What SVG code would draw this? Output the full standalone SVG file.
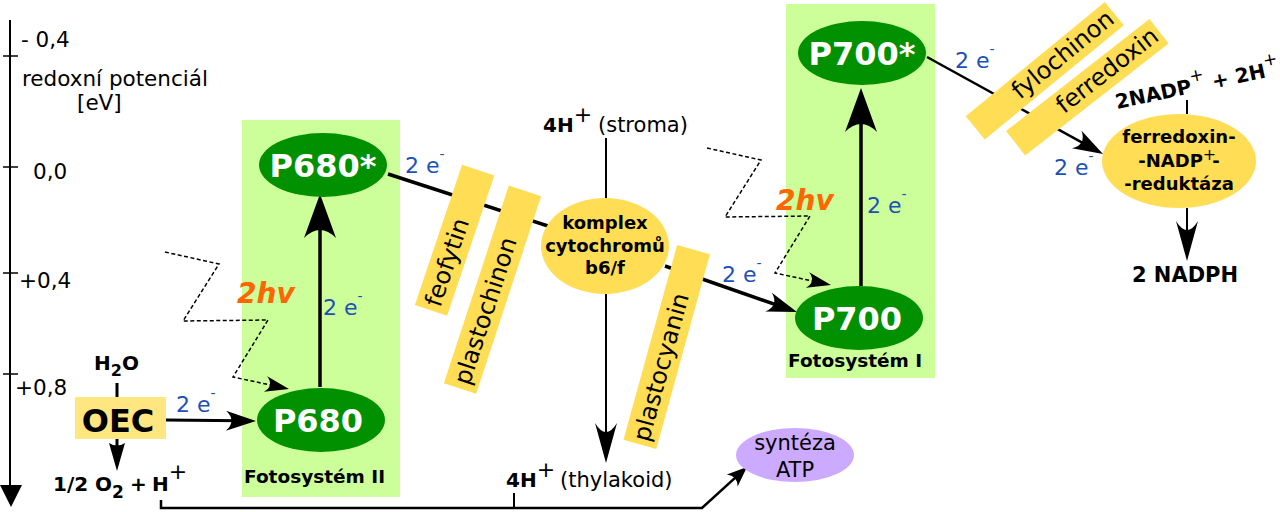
<svg xmlns="http://www.w3.org/2000/svg" width="1280" height="512" viewBox="0 0 1280 512">
<style>
text{font-family:"DejaVu Sans","Liberation Sans",sans-serif;fill:#000}
.ax{font-size:21.5px}
.b{font-weight:bold}
.ps{fill:#ccff99}
.gr{fill:#009000}
.pt{fill:#fff;font-weight:bold;font-size:32px;text-anchor:middle}
.yl{fill:#ffdd55}
.bar{font-size:24px}
.el{font-size:18px;font-weight:bold;text-anchor:middle}
.e{fill:#1a50b8;font-size:22px}
.hv{fill:#ff6600;font-size:28px;font-weight:bold;font-style:italic}
.ln{stroke:#000;fill:none}
.dash{stroke:#000;fill:none;stroke-width:1.5;stroke-dasharray:4 2.5}
.fs{font-size:18.5px;font-weight:bold}
</style>
<defs>
<marker id="aL" viewBox="-50 -20 55 40" markerWidth="55" markerHeight="40" refX="-25" refY="0" orient="auto" markerUnits="userSpaceOnUse"><path d="M0,0 L-44,-16 Q-28,0 -44,16 Z" fill="#000"/></marker>
<marker id="aM" viewBox="-35 -12 40 24" markerWidth="40" markerHeight="24" refX="-15" refY="0" orient="auto" markerUnits="userSpaceOnUse"><path d="M0,0 L-30,-10 Q-19,0 -30,10 Z" fill="#000"/></marker>
<marker id="aD" viewBox="-45 -14 50 28" markerWidth="50" markerHeight="28" refX="-20" refY="0" orient="auto" markerUnits="userSpaceOnUse"><path d="M0,0 L-40,-11 Q-22,0 -40,11 Z" fill="#000"/></marker>
<marker id="aS" viewBox="-28 -10 32 20" markerWidth="32" markerHeight="20" refX="-10" refY="0" orient="auto" markerUnits="userSpaceOnUse"><path d="M0,0 L-24,-8 Q-15,0 -24,8 Z" fill="#000"/></marker>
<marker id="aO" viewBox="-32 -10 36 20" markerWidth="36" markerHeight="20" refX="-14" refY="0" orient="auto" markerUnits="userSpaceOnUse"><path d="M0,0 L-28,-8 Q-23,0 -28,8 Z" fill="#000"/></marker>
<marker id="aT" viewBox="-24 -10 28 20" markerWidth="28" markerHeight="20" refX="-8" refY="0" orient="auto" markerUnits="userSpaceOnUse"><path d="M0,0 L-20,-8 Q-13,0 -20,8 Z" fill="#000"/></marker>
</defs>
<rect width="1280" height="512" fill="#fff"/>

<g id="axis">
<line x1="10" y1="20" x2="10" y2="487" stroke="#000" stroke-width="2"/>
<polygon points="0,485 22,485 11,507" fill="#000"/>
<g stroke="#000" stroke-width="1.5">
<line x1="3" y1="56" x2="18" y2="56"/>
<line x1="3" y1="167" x2="18" y2="167"/>
<line x1="3" y1="273" x2="18" y2="273"/>
<line x1="3" y1="374" x2="18" y2="374"/>
</g>
<text class="ax" x="21" y="47">- 0,4</text>
<text class="ax" x="22" y="86">redoxní potenciál</text>
<text class="ax" x="77" y="110">[eV]</text>
<text class="ax" x="33" y="179">0,0</text>
<text class="ax" x="19" y="288">+0,4</text>
<text class="ax" x="15" y="395">+0,8</text>
</g>

<g id="psII">
<rect class="ps" x="242" y="120" width="158" height="377"/>
<text class="fs" x="244" y="483">Fotosystém II</text>
</g>
<g id="psI">
<rect class="ps" x="786" y="4" width="149" height="374"/>
<text class="fs" x="788" y="367">Fotosystém I</text>
</g>

<g id="connectors">
<line class="ln" x1="320" y1="387" x2="320" y2="219" stroke-width="3.5" marker-end="url(#aL)"/>
<line class="ln" x1="861" y1="286" x2="861" y2="113" stroke-width="3.5" marker-end="url(#aL)"/>
<line class="ln" x1="388" y1="174" x2="548" y2="226" stroke-width="3.5"/>
<line class="ln" x1="166" y1="420" x2="241" y2="420.8" stroke-width="3" marker-end="url(#aM)"/>
<line class="ln" x1="665" y1="266" x2="782.8" y2="307.1" stroke-width="3.5" marker-end="url(#aM)"/>
<line class="ln" x1="927" y1="57" x2="1089.9" y2="146.8" stroke-width="2.5" marker-end="url(#aM)"/>
<line class="ln" x1="606" y1="138" x2="606" y2="199" stroke-width="2"/>
<line class="ln" x1="606" y1="294" x2="606" y2="443" stroke-width="2" marker-end="url(#aD)"/>
<line class="ln" x1="1187" y1="100" x2="1187" y2="114" stroke-width="2"/>
<line class="ln" x1="1187" y1="208" x2="1187" y2="241" stroke-width="2" marker-end="url(#aD)"/>
<line class="ln" x1="117" y1="383" x2="117" y2="397" stroke-width="3"/>
<line class="ln" x1="117" y1="439" x2="117" y2="457" stroke-width="3" marker-end="url(#aO)"/>
<polyline class="ln" points="161,500 161,508 702,508 741.1,472.4" stroke-width="2.5" marker-end="url(#aT)"/>
<line class="ln" x1="514" y1="493" x2="514" y2="508" stroke-width="2"/>
<polyline class="dash" points="165,252 219,264 183,321 268,320 233,377 279.2,386.9" marker-end="url(#aS)"/>
<polyline class="dash" points="707,148 761,160 725,217 810,216 775,273 821.2,282.9" marker-end="url(#aS)"/>
</g>

<g id="labels">
<text class="e" x="405" y="173">2 e<tspan font-size="14" dy="-14">-</tspan></text>
<text class="e" x="323" y="315">2 e<tspan font-size="14" dy="-14">-</tspan></text>
<text class="e" x="176" y="412">2 e<tspan font-size="14" dy="-14">-</tspan></text>
<text class="e" x="722" y="282">2 e<tspan font-size="14" dy="-14">-</tspan></text>
<text class="e" x="867" y="213">2 e<tspan font-size="14" dy="-14">-</tspan></text>
<text class="e" x="955" y="68">2 e<tspan font-size="14" dy="-14">-</tspan></text>
<text class="e" x="1054" y="175">2 e<tspan font-size="14" dy="-14">-</tspan></text>
<text class="hv" x="237" y="303">2hv</text>
<text class="hv" x="776" y="210">2hv</text>
</g>

<g id="p680star">
<ellipse class="gr" cx="323" cy="165" rx="64" ry="32"/>
<text class="pt" x="323" y="177">P680*</text>
</g>
<g id="p680">
<ellipse class="gr" cx="321" cy="420" rx="64" ry="32"/>
<text class="pt" x="318" y="432">P680</text>
</g>
<g id="p700star">
<ellipse class="gr" cx="862" cy="53" rx="64" ry="32"/>
<text class="pt" x="862" y="65">P700*</text>
</g>
<g id="p700">
<ellipse class="gr" cx="859" cy="318" rx="64" ry="32"/>
<text class="pt" x="857" y="330">P700</text>
</g>

<g id="oec">
<rect x="75" y="397" width="91" height="42" fill="#ffe680"/>
<text class="b" x="118" y="432" font-size="32" text-anchor="middle">OEC</text>
</g>
<g id="h2o">
<text class="b" x="94" y="370" font-size="20">H<tspan font-size="16" dy="6">2</tspan><tspan dy="-6">O</tspan></text>
</g>
<g id="o2">
<text class="b" x="53" y="491" font-size="20">1/2 O<tspan font-size="17" dy="7">2</tspan></text>
<text class="b" x="130" y="491" font-size="20">+</text>
<text class="b" x="152" y="491" font-size="20">H<tspan font-weight="normal" font-size="22" dy="-12">+</tspan></text>
</g>

<g id="feofytin" transform="translate(454.6,240.3) rotate(-71.4)">
<rect class="yl" x="-74" y="-17" width="148" height="34"/>
<text class="bar" x="-69" y="8">feofytin</text>
</g>
<g id="plastochinon" transform="translate(492.5,289.7) rotate(-71.8)">
<rect class="yl" x="-104" y="-17" width="208" height="34"/>
<text class="bar" x="-99" y="8">plastochinon</text>
</g>
<g id="plastocyanin" transform="translate(666.7,347) rotate(-74.6)">
<rect class="yl" x="-101" y="-17" width="202" height="34"/>
<text class="bar" x="-97" y="8">plastocyanin</text>
</g>
<g id="fylochinon" transform="translate(1044.8,70.7) rotate(-39.4)">
<rect class="yl" x="-90" y="-15" width="180" height="30"/>
<text class="bar" x="86" y="7" font-size="23" text-anchor="end">fylochinon</text>
</g>
<g id="ferredoxin" transform="translate(1087.3,87.2) rotate(-38)">
<rect class="yl" x="-91" y="-15.5" width="182" height="31"/>
<text class="bar" x="87" y="7" font-size="23" text-anchor="end">ferredoxin</text>
</g>

<g id="cytochrom">
<ellipse class="yl" cx="605" cy="246" rx="64" ry="48"/>
<text class="el" x="605" y="229">komplex</text>
<text class="el" x="605" y="252">cytochromů</text>
<text class="el" x="605" y="274">b6/f</text>
</g>
<g id="stroma">
<text x="543" y="132"><tspan class="b" font-size="20">4H</tspan><tspan font-size="22" dy="-10">+</tspan><tspan x="598" dy="10" font-size="21">(stroma)</tspan></text>
</g>
<g id="thylakoid">
<text x="506" y="487"><tspan class="b" font-size="20">4H</tspan><tspan font-size="22" dy="-10">+</tspan><tspan x="560" dy="10" font-size="21">(thylakoid)</tspan></text>
</g>
<g id="atp">
<ellipse cx="795" cy="455" rx="59" ry="27" fill="#ccaaff"/>
<text x="795" y="450" font-size="21" text-anchor="middle">syntéza</text>
<text x="795" y="477" font-size="21" text-anchor="middle">ATP</text>
</g>
<g id="fnr">
<ellipse class="yl" cx="1179" cy="161" rx="77" ry="47"/>
<text class="el" x="1179" y="143">ferredoxin-</text>
<text class="el" x="1179" y="167">-NADP<tspan font-weight="normal" font-size="16" dy="-7">+</tspan><tspan dx="-4" dy="7">-</tspan></text>
<text class="el" x="1179" y="190">-reduktáza</text>
</g>
<g id="nadp">
<text class="b" font-size="20" transform="translate(1117,109) rotate(-12)">2NADP<tspan font-weight="normal" font-size="17" dy="-11">+</tspan><tspan dy="11"> + 2H</tspan><tspan font-weight="normal" font-size="17" dy="-11">+</tspan></text>
</g>
<g id="nadph">
<text class="b" x="1185" y="282" font-size="21" text-anchor="middle">2 NADPH</text>
</g>
</svg>
